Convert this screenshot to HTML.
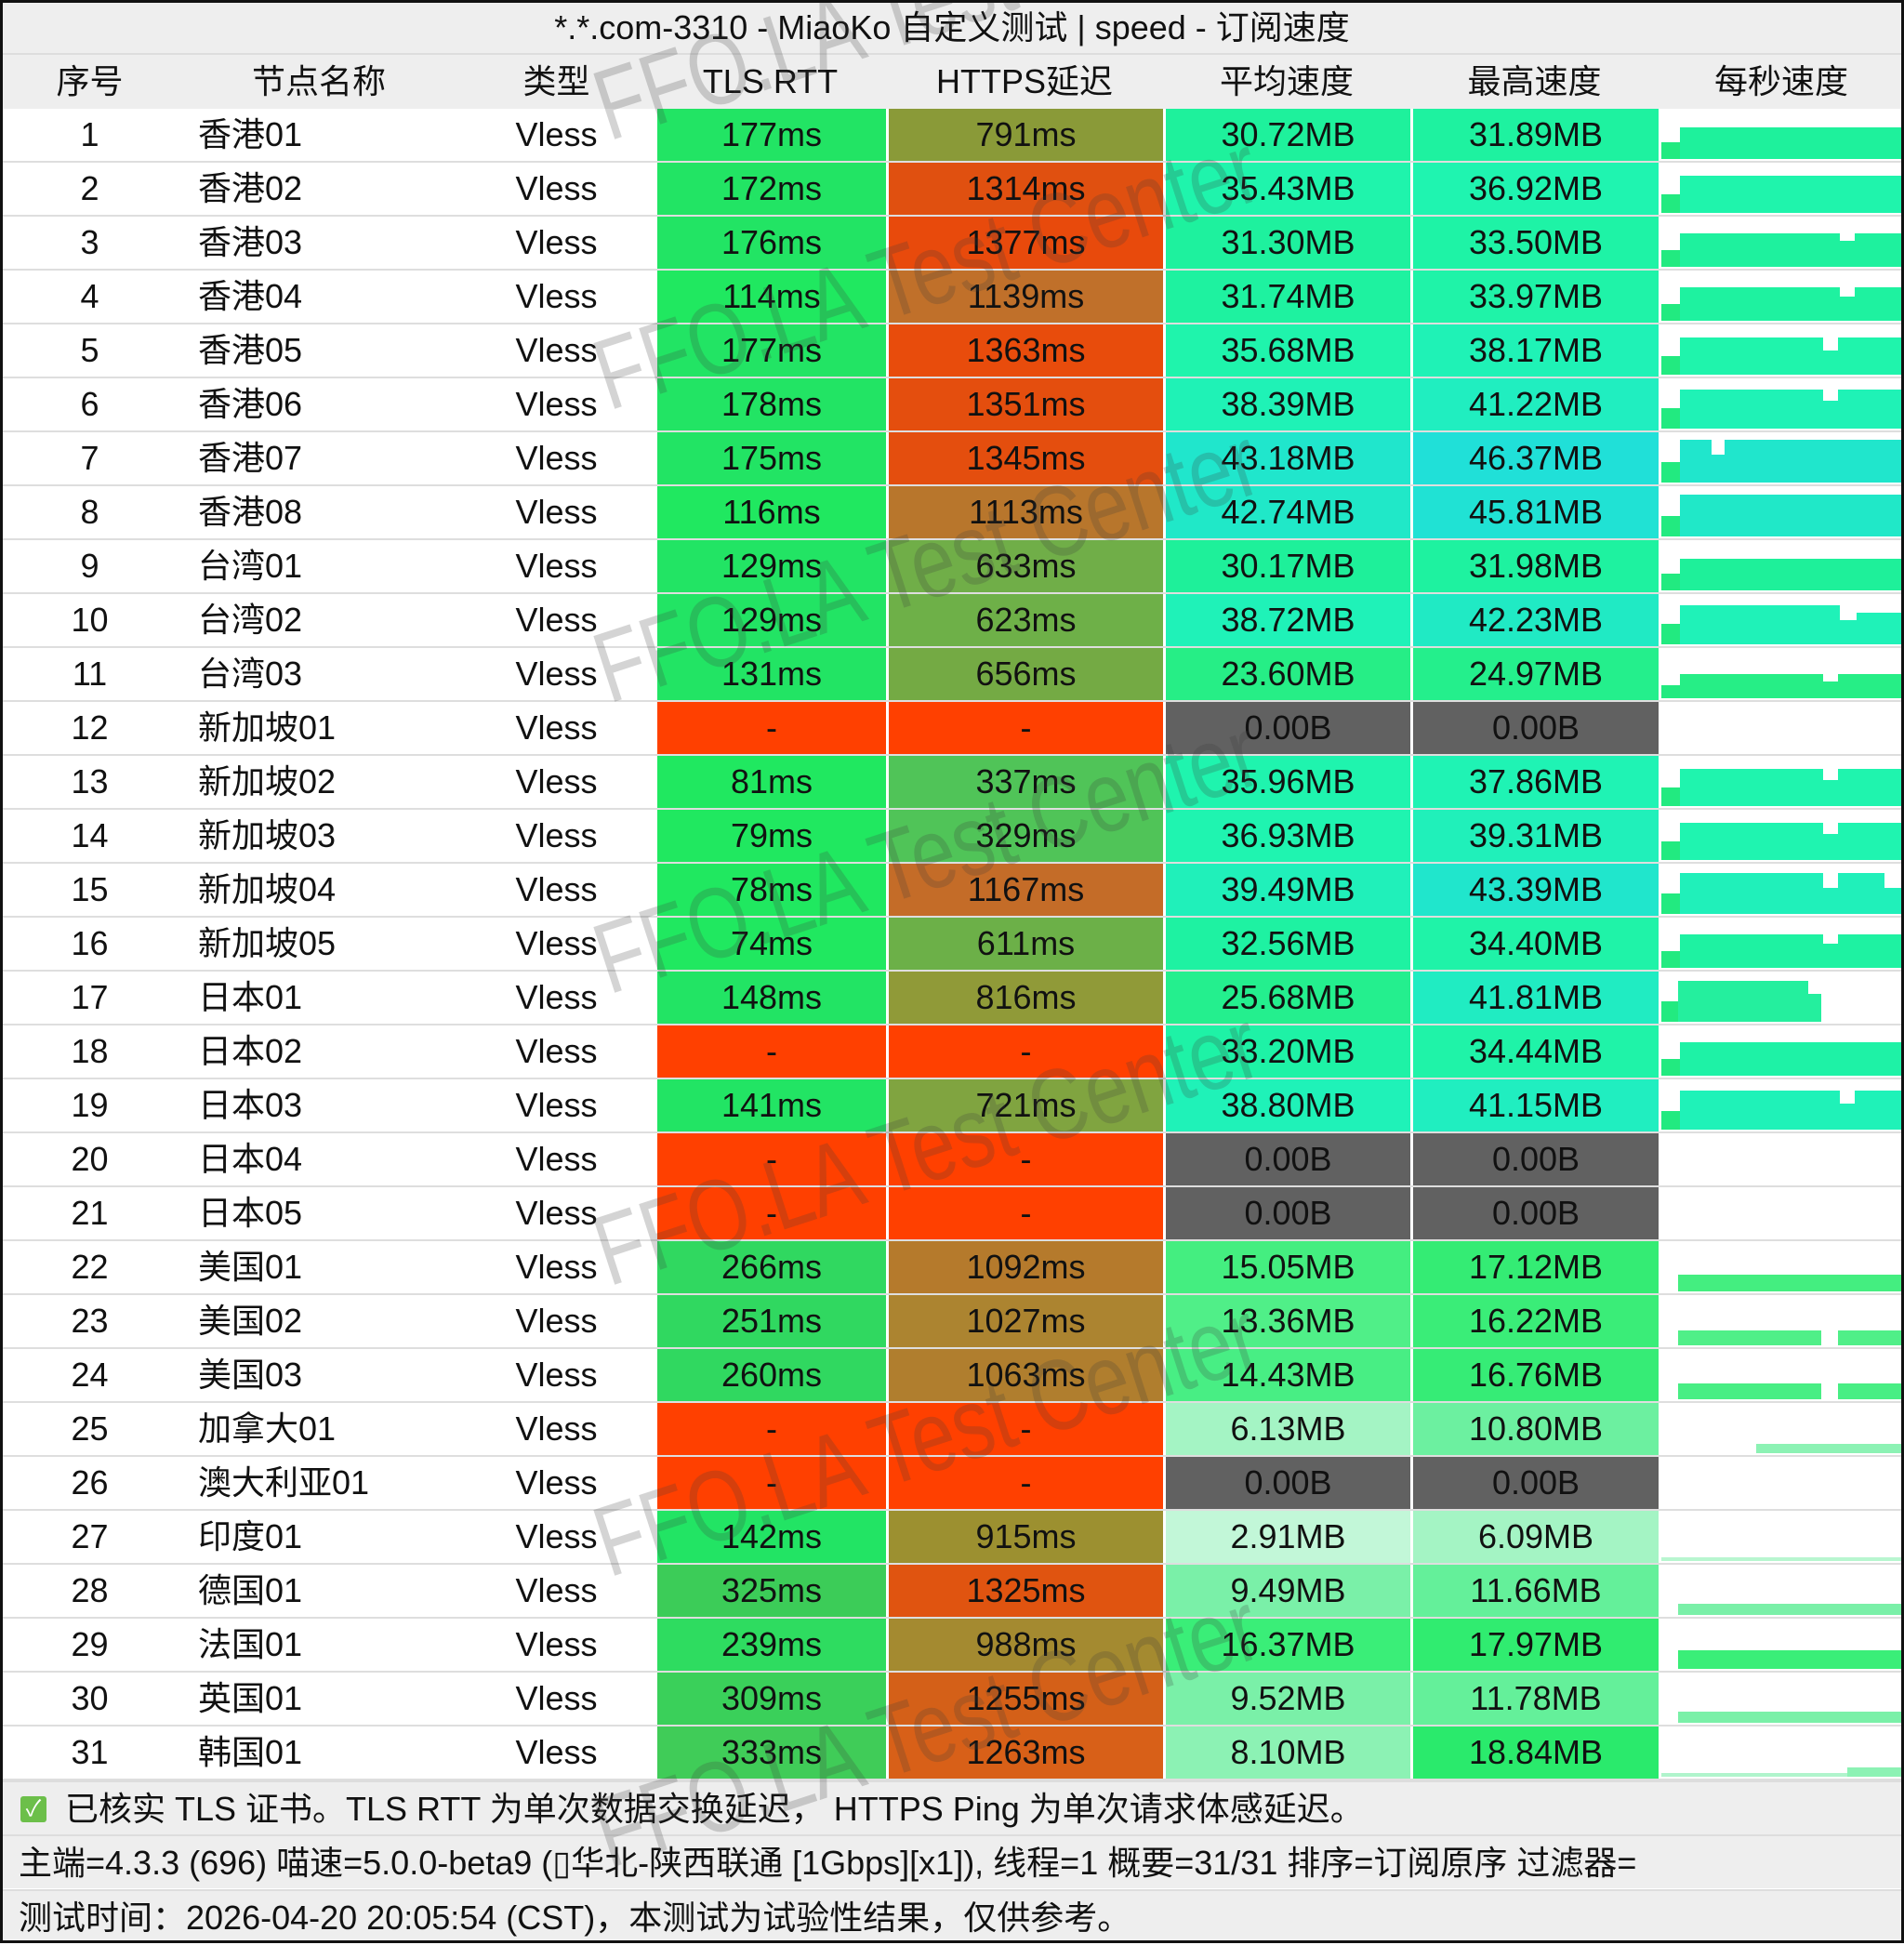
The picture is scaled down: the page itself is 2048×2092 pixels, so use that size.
<!DOCTYPE html>
<html><head><meta charset="utf-8">
<style>
*{margin:0;padding:0;box-sizing:border-box}
body{width:2048px;height:2090px;background:#fff;font-family:"Liberation Sans","Noto Sans CJK SC",sans-serif;font-size:36px;color:#111;position:relative;overflow:hidden}
.frame{position:absolute;left:0;top:0;width:2048px;height:2090px;border:3px solid #111;pointer-events:none;z-index:5}
.t{position:absolute;left:0;top:0;width:2048px;height:59px;background:#eee;text-align:center;line-height:59px;border-bottom:2px solid #ddd}
.h,.r{position:absolute;left:0;width:2048px;display:flex}
.h{top:59px;height:58px;background:#eee;line-height:58px}
.r{height:58px;line-height:56px;border-bottom:2px solid #dedede}
.r>div,.h>div{text-align:center;height:100%;overflow:hidden;white-space:nowrap}
.c1{width:193px}.c2{width:300px;text-align:left!important;padding-left:20px}.c3{width:211px}
.c4{width:249px;border-left:3px solid #fff}.c5{width:298px;border-left:3px solid #fff}.c6{width:266px;border-left:3px solid #fff}.c7{width:267px;border-left:3px solid #fff}.c8{width:264px;border-left:3px solid #fff;position:relative}
.h .c2{text-align:center!important;padding-left:0}
.h>div{border-left:none}
.sp{position:absolute;bottom:2px}
.f{position:absolute;left:0;width:2048px;height:58px;background:#eee;line-height:58px;padding-left:20px;border-top:2px solid #ddd;white-space:nowrap}
.g{background:#616161}.x{background:#ff4000}
.wm{position:absolute;font-size:108px;color:rgba(60,60,60,0.22);transform-origin:0 100%;transform:rotate(-18deg) scaleX(0.78);white-space:nowrap;z-index:4;line-height:1}
</style></head><body>
<div class="t">*.*.com-3310 - MiaoKo 自定义测试 | speed - 订阅速度</div>
<div class="h"><div class="c1">序号</div><div class="c2">节点名称</div><div class="c3">类型</div><div class="c4">TLS RTT</div><div class="c5">HTTPS延迟</div><div class="c6">平均速度</div><div class="c7">最高速度</div><div class="c8">每秒速度</div></div>

<div class="r" style="top:117px"><div class="c1">1</div><div class="c2">香港01</div><div class="c3">Vless</div><div class="c4" style="background:#22e464">177ms</div><div class="c5" style="background:#8a9a38">791ms</div><div class="c6" style="background:#1ef19c">30.72MB</div><div class="c7" style="background:#1ef2a0">31.89MB</div><div class="c8"><div class="sp" style="left:0;width:20px;height:18px;background:#22ea80"></div><div class="sp" style="left:20px;right:0;height:34px;background:#1ef19c"></div></div></div>
<div class="r" style="top:175px"><div class="c1">2</div><div class="c2">香港02</div><div class="c3">Vless</div><div class="c4" style="background:#22e464">172ms</div><div class="c5" style="background:#e05010">1314ms</div><div class="c6" style="background:#1ff4ac">35.43MB</div><div class="c7" style="background:#1ff4b0">36.92MB</div><div class="c8"><div class="sp" style="left:0;width:20px;height:20px;background:#22ea80"></div><div class="sp" style="left:20px;right:0;height:40px;background:#1ff4ac"></div></div></div>
<div class="r" style="top:233px"><div class="c1">3</div><div class="c2">香港03</div><div class="c3">Vless</div><div class="c4" style="background:#22e464">176ms</div><div class="c5" style="background:#e84a0c">1377ms</div><div class="c6" style="background:#1ef19e">31.30MB</div><div class="c7" style="background:#1ef3a6">33.50MB</div><div class="c8"><div class="sp" style="left:0;width:20px;height:18px;background:#22ea80"></div><div class="sp" style="left:20px;width:172px;height:36px;background:#1ef19e"></div><div class="sp" style="left:192px;width:16px;height:28px;background:#1ef19e"></div><div class="sp" style="left:208px;right:0;height:36px;background:#1ef19e"></div></div></div>
<div class="r" style="top:291px"><div class="c1">4</div><div class="c2">香港04</div><div class="c3">Vless</div><div class="c4" style="background:#20e860">114ms</div><div class="c5" style="background:#c0702a">1139ms</div><div class="c6" style="background:#1ef2a0">31.74MB</div><div class="c7" style="background:#1ff3a8">33.97MB</div><div class="c8"><div class="sp" style="left:0;width:20px;height:18px;background:#22ea80"></div><div class="sp" style="left:20px;width:172px;height:36px;background:#1ef2a0"></div><div class="sp" style="left:192px;width:16px;height:26px;background:#1ef2a0"></div><div class="sp" style="left:208px;right:0;height:36px;background:#1ef2a0"></div></div></div>
<div class="r" style="top:349px"><div class="c1">5</div><div class="c2">香港05</div><div class="c3">Vless</div><div class="c4" style="background:#22e464">177ms</div><div class="c5" style="background:#e84c0c">1363ms</div><div class="c6" style="background:#1ff4ac">35.68MB</div><div class="c7" style="background:#1ff2b6">38.17MB</div><div class="c8"><div class="sp" style="left:0;width:20px;height:20px;background:#22ea80"></div><div class="sp" style="left:20px;width:154px;height:40px;background:#1ff4ac"></div><div class="sp" style="left:174px;width:16px;height:26px;background:#1ff4ac"></div><div class="sp" style="left:190px;right:0;height:40px;background:#1ff4ac"></div></div></div>
<div class="r" style="top:407px"><div class="c1">6</div><div class="c2">香港06</div><div class="c3">Vless</div><div class="c4" style="background:#22e464">178ms</div><div class="c5" style="background:#e44e0e">1351ms</div><div class="c6" style="background:#1ff2b6">38.39MB</div><div class="c7" style="background:#20eec0">41.22MB</div><div class="c8"><div class="sp" style="left:0;width:20px;height:22px;background:#22ea80"></div><div class="sp" style="left:20px;width:154px;height:42px;background:#1ff2b6"></div><div class="sp" style="left:174px;width:16px;height:30px;background:#1ff2b6"></div><div class="sp" style="left:190px;right:0;height:42px;background:#1ff2b6"></div></div></div>
<div class="r" style="top:465px"><div class="c1">7</div><div class="c2">香港07</div><div class="c3">Vless</div><div class="c4" style="background:#22e464">175ms</div><div class="c5" style="background:#e44e0e">1345ms</div><div class="c6" style="background:#20e6cc">43.18MB</div><div class="c7" style="background:#20e0d8">46.37MB</div><div class="c8"><div class="sp" style="left:0;width:20px;height:22px;background:#22ea80"></div><div class="sp" style="left:20px;width:34px;height:46px;background:#20e6cc"></div><div class="sp" style="left:54px;width:14px;height:30px;background:#20e6cc"></div><div class="sp" style="left:68px;right:0;height:46px;background:#20e6cc"></div></div></div>
<div class="r" style="top:523px"><div class="c1">8</div><div class="c2">香港08</div><div class="c3">Vless</div><div class="c4" style="background:#20e860">116ms</div><div class="c5" style="background:#b8762c">1113ms</div><div class="c6" style="background:#20e8c8">42.74MB</div><div class="c7" style="background:#20e2d4">45.81MB</div><div class="c8"><div class="sp" style="left:0;width:20px;height:22px;background:#22ea80"></div><div class="sp" style="left:20px;right:0;height:45px;background:#20e8c8"></div></div></div>
<div class="r" style="top:581px"><div class="c1">9</div><div class="c2">台湾01</div><div class="c3">Vless</div><div class="c4" style="background:#22e464">129ms</div><div class="c5" style="background:#70ae48">633ms</div><div class="c6" style="background:#1ef09a">30.17MB</div><div class="c7" style="background:#1ef2a0">31.98MB</div><div class="c8"><div class="sp" style="left:0;width:20px;height:18px;background:#22ea80"></div><div class="sp" style="left:20px;right:0;height:34px;background:#1ef09a"></div></div></div>
<div class="r" style="top:639px"><div class="c1">10</div><div class="c2">台湾02</div><div class="c3">Vless</div><div class="c4" style="background:#22e464">129ms</div><div class="c5" style="background:#6eb048">623ms</div><div class="c6" style="background:#1ff2b8">38.72MB</div><div class="c7" style="background:#20eac4">42.23MB</div><div class="c8"><div class="sp" style="left:0;width:20px;height:22px;background:#22ea80"></div><div class="sp" style="left:20px;width:172px;height:42px;background:#1ff2b8"></div><div class="sp" style="left:192px;width:18px;height:26px;background:#1ff2b8"></div><div class="sp" style="left:210px;right:0;height:34px;background:#1ff2b8"></div></div></div>
<div class="r" style="top:697px"><div class="c1">11</div><div class="c2">台湾03</div><div class="c3">Vless</div><div class="c4" style="background:#22e464">131ms</div><div class="c5" style="background:#74aa44">656ms</div><div class="c6" style="background:#26ee86">23.60MB</div><div class="c7" style="background:#24ef8c">24.97MB</div><div class="c8"><div class="sp" style="left:0;width:20px;height:14px;background:#22ea80"></div><div class="sp" style="left:20px;width:154px;height:26px;background:#26ee86"></div><div class="sp" style="left:174px;width:16px;height:18px;background:#26ee86"></div><div class="sp" style="left:190px;right:0;height:26px;background:#26ee86"></div></div></div>
<div class="r" style="top:755px"><div class="c1">12</div><div class="c2">新加坡01</div><div class="c3">Vless</div><div class="c4 x">-</div><div class="c5 x">-</div><div class="c6 g">0.00B</div><div class="c7 g">0.00B</div><div class="c8"></div></div>
<div class="r" style="top:813px"><div class="c1">13</div><div class="c2">新加坡02</div><div class="c3">Vless</div><div class="c4" style="background:#20e860">81ms</div><div class="c5" style="background:#50c458">337ms</div><div class="c6" style="background:#1ff4ae">35.96MB</div><div class="c7" style="background:#1ff3b4">37.86MB</div><div class="c8"><div class="sp" style="left:0;width:20px;height:20px;background:#22ea80"></div><div class="sp" style="left:20px;width:154px;height:40px;background:#1ff4ae"></div><div class="sp" style="left:174px;width:16px;height:28px;background:#1ff4ae"></div><div class="sp" style="left:190px;right:0;height:40px;background:#1ff4ae"></div></div></div>
<div class="r" style="top:871px"><div class="c1">14</div><div class="c2">新加坡03</div><div class="c3">Vless</div><div class="c4" style="background:#20e860">79ms</div><div class="c5" style="background:#50c458">329ms</div><div class="c6" style="background:#1ff4b0">36.93MB</div><div class="c7" style="background:#20f0ba">39.31MB</div><div class="c8"><div class="sp" style="left:0;width:20px;height:20px;background:#22ea80"></div><div class="sp" style="left:20px;width:154px;height:40px;background:#1ff4b0"></div><div class="sp" style="left:174px;width:16px;height:28px;background:#1ff4b0"></div><div class="sp" style="left:190px;right:0;height:40px;background:#1ff4b0"></div></div></div>
<div class="r" style="top:929px"><div class="c1">15</div><div class="c2">新加坡04</div><div class="c3">Vless</div><div class="c4" style="background:#20e860">78ms</div><div class="c5" style="background:#c46c28">1167ms</div><div class="c6" style="background:#20f0ba">39.49MB</div><div class="c7" style="background:#20e6cc">43.39MB</div><div class="c8"><div class="sp" style="left:0;width:20px;height:22px;background:#22ea80"></div><div class="sp" style="left:20px;width:154px;height:44px;background:#20f0ba"></div><div class="sp" style="left:174px;width:16px;height:28px;background:#20f0ba"></div><div class="sp" style="left:190px;width:50px;height:44px;background:#20f0ba"></div><div class="sp" style="left:240px;right:0;height:28px;background:#20f0ba"></div></div></div>
<div class="r" style="top:987px"><div class="c1">16</div><div class="c2">新加坡05</div><div class="c3">Vless</div><div class="c4" style="background:#20e860">74ms</div><div class="c5" style="background:#6cb048">611ms</div><div class="c6" style="background:#1ef2a2">32.56MB</div><div class="c7" style="background:#1ff3a8">34.40MB</div><div class="c8"><div class="sp" style="left:0;width:20px;height:18px;background:#22ea80"></div><div class="sp" style="left:20px;width:154px;height:36px;background:#1ef2a2"></div><div class="sp" style="left:174px;width:16px;height:26px;background:#1ef2a2"></div><div class="sp" style="left:190px;right:0;height:36px;background:#1ef2a2"></div></div></div>
<div class="r" style="top:1045px"><div class="c1">17</div><div class="c2">日本01</div><div class="c3">Vless</div><div class="c4" style="background:#22e464">148ms</div><div class="c5" style="background:#909a38">816ms</div><div class="c6" style="background:#24ef8e">25.68MB</div><div class="c7" style="background:#20ecc2">41.81MB</div><div class="c8"><div class="sp" style="left:0;width:18px;height:22px;background:#22ea80"></div><div class="sp" style="left:18px;width:140px;height:44px;background:#24ef9e"></div><div class="sp" style="left:158px;width:14px;height:30px;background:#24ef9e"></div></div></div>
<div class="r" style="top:1103px"><div class="c1">18</div><div class="c2">日本02</div><div class="c3">Vless</div><div class="c4 x">-</div><div class="c5 x">-</div><div class="c6" style="background:#1ef2a6">33.20MB</div><div class="c7" style="background:#1ff3a8">34.44MB</div><div class="c8"><div class="sp" style="left:0;width:20px;height:18px;background:#22ea80"></div><div class="sp" style="left:20px;right:0;height:36px;background:#1ef2a6"></div></div></div>
<div class="r" style="top:1161px"><div class="c1">19</div><div class="c2">日本03</div><div class="c3">Vless</div><div class="c4" style="background:#22e464">141ms</div><div class="c5" style="background:#80a440">721ms</div><div class="c6" style="background:#1ff2b8">38.80MB</div><div class="c7" style="background:#20eec0">41.15MB</div><div class="c8"><div class="sp" style="left:0;width:20px;height:20px;background:#22ea80"></div><div class="sp" style="left:20px;width:172px;height:42px;background:#1ff2b8"></div><div class="sp" style="left:192px;width:16px;height:28px;background:#1ff2b8"></div><div class="sp" style="left:208px;right:0;height:42px;background:#1ff2b8"></div></div></div>
<div class="r" style="top:1219px"><div class="c1">20</div><div class="c2">日本04</div><div class="c3">Vless</div><div class="c4 x">-</div><div class="c5 x">-</div><div class="c6 g">0.00B</div><div class="c7 g">0.00B</div><div class="c8"></div></div>
<div class="r" style="top:1277px"><div class="c1">21</div><div class="c2">日本05</div><div class="c3">Vless</div><div class="c4 x">-</div><div class="c5 x">-</div><div class="c6 g">0.00B</div><div class="c7 g">0.00B</div><div class="c8"></div></div>
<div class="r" style="top:1335px"><div class="c1">22</div><div class="c2">美国01</div><div class="c3">Vless</div><div class="c4" style="background:#30d860">266ms</div><div class="c5" style="background:#b57a2c">1092ms</div><div class="c6" style="background:#44ee80">15.05MB</div><div class="c7" style="background:#34ec74">17.12MB</div><div class="c8"><div class="sp" style="left:18px;right:0;height:18px;background:#44ee80"></div></div></div>
<div class="r" style="top:1393px"><div class="c1">23</div><div class="c2">美国02</div><div class="c3">Vless</div><div class="c4" style="background:#30d860">251ms</div><div class="c5" style="background:#ac8430">1027ms</div><div class="c6" style="background:#50ef88">13.36MB</div><div class="c7" style="background:#3aed78">16.22MB</div><div class="c8"><div class="sp" style="left:18px;width:154px;height:16px;background:#50ef88"></div><div class="sp" style="left:190px;right:0;height:16px;background:#50ef88"></div></div></div>
<div class="r" style="top:1451px"><div class="c1">24</div><div class="c2">美国03</div><div class="c3">Vless</div><div class="c4" style="background:#30d860">260ms</div><div class="c5" style="background:#b07e2e">1063ms</div><div class="c6" style="background:#48ee84">14.43MB</div><div class="c7" style="background:#36ec76">16.76MB</div><div class="c8"><div class="sp" style="left:18px;width:154px;height:17px;background:#48ee84"></div><div class="sp" style="left:190px;right:0;height:17px;background:#48ee84"></div></div></div>
<div class="r" style="top:1509px"><div class="c1">25</div><div class="c2">加拿大01</div><div class="c3">Vless</div><div class="c4 x">-</div><div class="c5 x">-</div><div class="c6" style="background:#a4f4c4">6.13MB</div><div class="c7" style="background:#6cf0a0">10.80MB</div><div class="c8"><div class="sp" style="left:102px;right:0;height:10px;background:#8cf2b4"></div></div></div>
<div class="r" style="top:1567px"><div class="c1">26</div><div class="c2">澳大利亚01</div><div class="c3">Vless</div><div class="c4 x">-</div><div class="c5 x">-</div><div class="c6 g">0.00B</div><div class="c7 g">0.00B</div><div class="c8"></div></div>
<div class="r" style="top:1625px"><div class="c1">27</div><div class="c2">印度01</div><div class="c3">Vless</div><div class="c4" style="background:#22e464">142ms</div><div class="c5" style="background:#9c9030">915ms</div><div class="c6" style="background:#c2f7d8">2.91MB</div><div class="c7" style="background:#a4f4c4">6.09MB</div><div class="c8"><div class="sp" style="left:0;right:0;height:4px;background:#b8f6d0"></div></div></div>
<div class="r" style="top:1683px"><div class="c1">28</div><div class="c2">德国01</div><div class="c3">Vless</div><div class="c4" style="background:#3ccc58">325ms</div><div class="c5" style="background:#e05410">1325ms</div><div class="c6" style="background:#7af0a8">9.49MB</div><div class="c7" style="background:#64f09a">11.66MB</div><div class="c8"><div class="sp" style="left:18px;right:0;height:12px;background:#7af0a8"></div></div></div>
<div class="r" style="top:1741px"><div class="c1">29</div><div class="c2">法国01</div><div class="c3">Vless</div><div class="c4" style="background:#2edc60">239ms</div><div class="c5" style="background:#a48a30">988ms</div><div class="c6" style="background:#3aee78">16.37MB</div><div class="c7" style="background:#30ec70">17.97MB</div><div class="c8"><div class="sp" style="left:18px;right:0;height:20px;background:#3aee78"></div></div></div>
<div class="r" style="top:1799px"><div class="c1">30</div><div class="c2">英国01</div><div class="c3">Vless</div><div class="c4" style="background:#3ad05a">309ms</div><div class="c5" style="background:#d46018">1255ms</div><div class="c6" style="background:#7af0a8">9.52MB</div><div class="c7" style="background:#64f09a">11.78MB</div><div class="c8"><div class="sp" style="left:18px;right:0;height:12px;background:#7af0a8"></div></div></div>
<div class="r" style="top:1857px"><div class="c1">31</div><div class="c2">韩国01</div><div class="c3">Vless</div><div class="c4" style="background:#40cc58">333ms</div><div class="c5" style="background:#d86018">1263ms</div><div class="c6" style="background:#8cf2b4">8.10MB</div><div class="c7" style="background:#2aea6c">18.84MB</div><div class="c8"><div class="sp" style="left:0;right:60px;height:4px;background:#b0f4cc"></div><div class="sp" style="left:200px;right:0;height:10px;background:#8cf2b4"></div></div></div>

<div class="f" style="top:1915px;padding-left:70px"><span style="position:absolute;left:22px;top:15px;width:28px;height:28px;background:#6cbf4a;border-radius:3px;color:#fff;font-size:24px;line-height:28px;text-align:center">✓</span>已核实 TLS 证书。TLS RTT 为单次数据交换延迟， HTTPS Ping 为单次请求体感延迟。</div>
<div class="f" style="top:1973px">主端=4.3.3 (696) 喵速=5.0.0-beta9 (▯华北-陕西联通 [1Gbps][x1]), 线程=1 概要=31/31 排序=订阅原序 过滤器=</div>
<div class="f" style="top:2032px">测试时间：2026-04-20 20:05:54 (CST)，本测试为试验性结果，仅供参考。</div>

<div class="wm" style="left:660px;top:60px">FFO.LA Test Center</div>
<div class="wm" style="left:660px;top:350px">FFO.LA Test Center</div>
<div class="wm" style="left:660px;top:665px">FFO.LA Test Center</div>
<div class="wm" style="left:660px;top:978px">FFO.LA Test Center</div>
<div class="wm" style="left:660px;top:1292px">FFO.LA Test Center</div>
<div class="wm" style="left:660px;top:1605px">FFO.LA Test Center</div>
<div class="wm" style="left:660px;top:1918px">FFO.LA Test Center</div>
<div class="frame"></div>
</body></html>
